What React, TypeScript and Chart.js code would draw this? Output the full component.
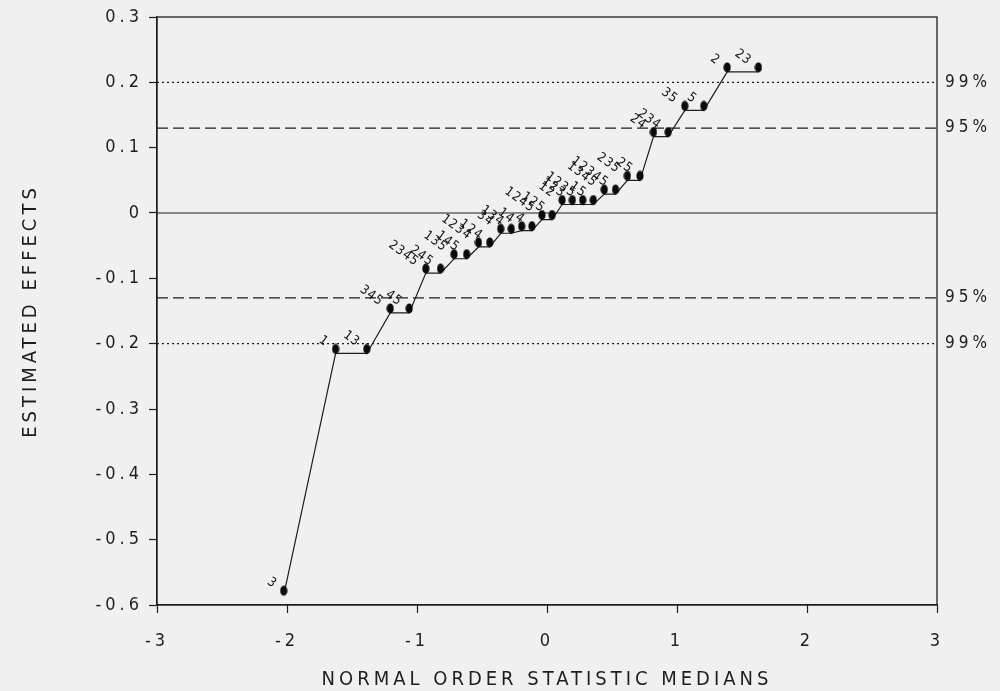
import React, { useEffect, useRef } from "react";
import { Chart, registerables } from "chart.js";
Chart.register(...registerables);

// Normal order statistic medians (x) and estimated effects (y)
const xMedians = [
  -2.025, -1.626, -1.386, -1.206, -1.06, -0.932, -0.819, -0.715, -0.618, -0.527,
  -0.44, -0.356, -0.275, -0.195, -0.116, -0.039, 0.039, 0.116, 0.195, 0.275,
  0.356, 0.44, 0.527, 0.618, 0.715, 0.819, 0.932, 1.06, 1.206, 1.386, 1.626,
];
const effects = [
  -0.585, -0.215, -0.215, -0.153, -0.153, -0.092, -0.092, -0.07, -0.07, -0.052,
  -0.052, -0.031, -0.031, -0.027, -0.027, -0.01, -0.01, 0.013, 0.013, 0.013,
  0.013, 0.029, 0.029, 0.05, 0.05, 0.117, 0.117, 0.157, 0.157, 0.216, 0.216,
];
const effectLabels = [
  "3", "1", "13", "345", "45", "2345", "245", "135", "145", "1234",
  "124", "34", "134", "14", "4", "1245", "125", "12", "123", "1235",
  "15", "1345", "12345", "235", "25", "24", "234", "35", "5", "2", "23",
];

// Reference lines
const refValues = [0.2, 0.13, 0, -0.13, -0.2];
const refLabels = ["99%", "95%", "", "95%", "99%"];
const refDashes = [[2, 3], [11, 5], [], [11, 5], [2, 3]];

const xTicks = [-3, -2, -1, 0, 1, 2, 3];
const yTicks = [-0.6, -0.5, -0.4, -0.3, -0.2, -0.1, 0, 0.1, 0.2, 0.3];

const INK = "#1e1e1e";
const FONT = "'Liberation Sans Narrow', 'DejaVu Sans Condensed', 'Roboto Condensed', 'Liberation Sans', sans-serif";

export default function App() {
  const ref = useRef<HTMLCanvasElement | null>(null);

  useEffect(() => {
    document.body.style.margin = "0";
    document.body.style.background = "#f0f0f0";
    const canvas = ref.current!;

    const mk = document.createElement("canvas");
    mk.width = 8;
    mk.height = 20;
    const mc = mk.getContext("2d")!;
    mc.fillStyle = "#0a0a0a";
    mc.beginPath();
    mc.ellipse(4, 5.5, 3.6, 5, 0, 0, Math.PI * 2);
    mc.fill();

    const refSets = refValues.map((v, i) => ({
      label: "ref" + i,
      data: [
        { x: xTicks[0], y: v },
        { x: xTicks[xTicks.length - 1], y: v },
      ],
      showLine: true,
      borderColor: INK,
      borderWidth: 1.2,
      borderDash: refDashes[i],
      pointRadius: 0,
      order: 2,
    }));

    const spacingPlugin = {
      id: "spacing",
      beforeDraw(chart: any) {
        (chart.ctx as any).letterSpacing = "4px";
      },
      afterDraw(chart: any) {
        (chart.ctx as any).letterSpacing = "0px";
      },
    };

    const decorPlugin = {
      id: "decor",
      afterDatasetsDraw(chart: any) {
        const { ctx, chartArea } = chart;
        const ys = chart.scales.y;
        ctx.save();
        ctx.strokeStyle = INK;
        ctx.lineWidth = 1.3;
        ctx.strokeRect(chartArea.left, chartArea.top, chartArea.right - chartArea.left, chartArea.bottom - chartArea.top);

        // right-hand percentage labels
        (ctx as any).letterSpacing = "4px";
        ctx.fillStyle = INK;
        ctx.font = `17px ${FONT}`;
        ctx.textAlign = "left";
        ctx.textBaseline = "middle";
        refValues.forEach((v, i) => {
          if (!refLabels[i]) return;
          ctx.fillText(refLabels[i], chartArea.right + 8, ys.getPixelForValue(v));
        });

        // point labels
        const meta = chart.getDatasetMeta(chart.data.datasets.length - 1);
        (ctx as any).letterSpacing = "1px";
        ctx.fillStyle = "#111";
        ctx.font = `13px ${FONT}`;
        ctx.textAlign = "right";
        ctx.textBaseline = "alphabetic";
        meta.data.forEach((pt: any, i: number) => {
          ctx.save();
          ctx.translate(pt.x - 10.5, pt.y - 7);
          ctx.rotate((36 * Math.PI) / 180);
          ctx.fillText(effectLabels[i], 0, 0);
          ctx.restore();
        });
        ctx.restore();
        (ctx as any).letterSpacing = "4px";
      },
    };

    const chart = new Chart(canvas, {
      type: "scatter",
      data: {
        datasets: [
          ...refSets,
          {
            label: "effects",
            data: xMedians.map((x, i) => ({ x, y: effects[i] })),
            showLine: true,
            borderColor: INK,
            borderWidth: 1.2,
            pointStyle: mk as any,
            pointRadius: 4,
            order: 1,
          },
        ],
      },
      options: {
        animation: false,
        responsive: false,
        events: [],
        layout: { padding: { top: 17, right: 63, left: 0, bottom: 0 } },
        plugins: { legend: { display: false }, tooltip: { enabled: false } },
        scales: {
          x: {
            type: "linear",
            min: -3,
            max: 3,
            afterFit: (s: any) => {
              s.height = 86;
            },
            afterBuildTicks: (s: any) => {
              s.ticks = xTicks.map((v) => ({ value: v }));
            },
            ticks: {
              color: INK,
              font: { size: 18, family: FONT },
              padding: 18,
              callback: (v: any) => String(v),
            },
            grid: { drawOnChartArea: false, drawTicks: true, tickLength: 8, tickColor: INK, tickWidth: 1.2 },
            border: { display: true, color: INK, width: 1.3 },
            title: {
              display: true,
              text: "NORMAL ORDER STATISTIC MEDIANS",
              color: INK,
              font: { size: 20, family: FONT, lineHeight: 1 },
              padding: { top: 0, bottom: 1 },
            },
          },
          y: {
            type: "linear",
            min: -0.6,
            max: 0.3,
            afterFit: (s: any) => {
              s.width = 157;
            },
            afterBuildTicks: (s: any) => {
              s.ticks = yTicks.map((v) => ({ value: v }));
            },
            ticks: {
              color: INK,
              font: { size: 18, family: FONT },
              padding: 6,
              callback: (v: any) => (Math.abs(v) < 1e-9 ? "0" : Number(v).toFixed(1)),
            },
            grid: { drawOnChartArea: false, drawTicks: true, tickLength: 8, tickColor: INK, tickWidth: 1.2 },
            border: { display: true, color: INK, width: 1.3 },
            title: {
              display: true,
              text: "ESTIMATED EFFECTS",
              color: INK,
              font: { size: 20, family: FONT, lineHeight: 1 },
              padding: { top: 21, bottom: 0 },
            },
          },
        },
      },
      plugins: [spacingPlugin, decorPlugin],
    } as any);

    return () => chart.destroy();
  }, []);

  return (
    <div style={{ width: 1000, height: 691 }}>
      <canvas ref={ref} width={1000} height={691} style={{ display: "block" }} />
    </div>
  );
}
